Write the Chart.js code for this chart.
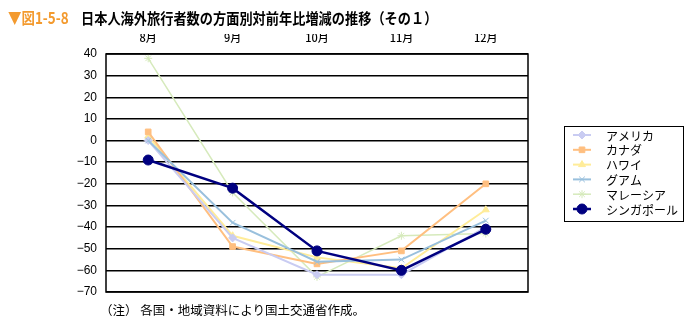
<!DOCTYPE html>
<html lang="ja">
<head>
<meta charset="utf-8">
<script src="https://cdn.jsdelivr.net/npm/chart.js@4"></script>
<style>
  html, body { margin: 0; padding: 0; background: #fff; }
  #wrap { position: relative; width: 694px; height: 327px; overflow: hidden; }
  #chart { position: absolute; left: 0; top: 0; }
  .title { position: absolute; left: 8px; top: 6px; white-space: nowrap;
           font-family: "Noto Sans CJK JP", sans-serif; font-size: 15px; line-height: 22px; }
  .title .fig { color: #f39a2e; font-weight: bold; font-size: 16px; display: inline-block; transform: scaleX(0.84); transform-origin: left; width: 62px; }
  .title .main { color: #000; font-weight: bold; display: inline-block; transform: scaleX(0.88); transform-origin: left; margin-left: 11px; }
  .note { position: absolute; left: 100px; top: 300px; white-space: nowrap;
          font-family: "Noto Sans CJK JP", sans-serif; font-size: 12.5px; color: #000; }
</style>
</head>
<body>
<div id="wrap">
  <canvas id="chart" width="694" height="327"></canvas>
  <div class="title"><span class="fig">▼図1-5-8</span><span class="main">日本人海外旅行者数の方面別対前年比増減の推移（その１）</span></div>
  <div class="note">（注） 各国・地域資料により国土交通省作成。</div>
</div>
<script>
// 月ごとの対前年比（％）
const months = ['8月', '9月', '10月', '11月', '12月'];
const america   = [0, -45, -62, -62, -40];
const canada    = [4, -49, -57, -51, -20];
const hawaii    = [2, -44, -54, -59, -32];
const guam      = [0, -38, -56, -55, -37];
const malaysia  = [38, -24, -63, -44, -43];
const singapore = [-9, -22, -51, -60, -41];

const yTicks = [40, 30, 20, 10, 0, -10, -20, -30, -40, -50, -60, -70];

const series = [
  { label: 'アメリカ',     data: america,   color: '#c9ccf2', style: 'rectRot',  radius: 4, width: 2,   order: 2 },
  { label: 'カナダ',       data: canada,    color: '#ffbf80', style: 'rect',     radius: 4, width: 2,   order: 3 },
  { label: 'ハワイ',       data: hawaii,    color: '#ffec99', style: 'triangle', radius: 4, width: 2,   order: 4 },
  { label: 'グアム',       data: guam,      color: '#99c0dd', style: 'crossRot', radius: 4, width: 2,   order: 1 },
  { label: 'マレーシア',   data: malaysia,  color: '#d6eabc', style: 'star',     radius: 4, width: 1.5, order: 5 },
  { label: 'シンガポール', data: singapore, color: '#000080', style: 'circle',   radius: 5, width: 2.5, order: 0 }
];

// プロット枠と、線＋マーカーの枠付き凡例を描く
const frameAndLegend = {
  id: 'frameAndLegend',
  afterDatasetsDraw(chart) {
    const { ctx } = chart;
    ctx.save();
    const box = { x: 564, y: 126, w: 119, h: 95 };
    ctx.strokeStyle = '#000';
    ctx.lineWidth = 1;
    ctx.strokeRect(box.x + 0.5, box.y + 0.5, box.w, box.h);
    ctx.font = '12px "Noto Sans CJK JP", sans-serif';
    ctx.textBaseline = 'middle';
    chart.data.datasets.forEach((ds, i) => {
      const y = 135 + i * 14.8;
      ctx.strokeStyle = ds.borderColor;
      ctx.fillStyle = ds.borderColor;
      ctx.lineWidth = ds.borderWidth;
      ctx.beginPath();
      ctx.moveTo(573, y);
      ctx.lineTo(591, y);
      ctx.stroke();
      ctx.lineWidth = 1;
      Chart.helpers.drawPoint(ctx, { pointStyle: ds.pointStyle, radius: ds.pointRadius, rotation: 0, borderWidth: 1 }, 582, y);
      ctx.fillStyle = '#000';
      ctx.fillText(ds.label, 606, y + 1);
    });

    const a = chart.chartArea;
    ctx.strokeStyle = '#000';
    ctx.lineWidth = 1.5;
    ctx.strokeRect(a.left, a.top, a.right - a.left, a.bottom - a.top);
    ctx.restore();
  }
};

new Chart(document.getElementById('chart'), {
  type: 'line',
  data: {
    labels: months,
    datasets: series.map(s => ({
      label: s.label,
      data: s.data,
      borderColor: s.color,
      backgroundColor: s.color,
      pointBackgroundColor: s.color,
      pointBorderColor: s.color,
      pointStyle: s.style,
      pointRadius: s.radius,
      pointBorderWidth: 1,
      borderWidth: s.width,
      tension: 0,
      order: s.order
    }))
  },
  options: {
    responsive: false,
    animation: false,
    layout: { padding: { left: 0, right: 166, top: 34, bottom: 35 } },
    scales: {
      x: {
        position: 'top',
        offset: true,
        grid: { display: false },
        border: { display: false },
        ticks: {
          color: '#000',
          padding: 2,
          font: { family: '"Noto Sans CJK JP", sans-serif', size: 11, weight: '500' }
        },
        afterFit: scale => { scale.height = 20; }
      },
      y: {
        min: -70,
        max: 40,
        grid: { color: '#000', lineWidth: 1.5, drawTicks: false },
        border: { display: false },
        afterBuildTicks: scale => { scale.ticks = yTicks.map(v => ({ value: v })); },
        ticks: {
          color: '#000',
          padding: 9,
          font: { family: 'Arial, "Liberation Sans", sans-serif', size: 12 },
          callback: v => (v < 0 ? '−' + Math.abs(v) : String(v))
        },
        afterFit: scale => { scale.width = 106; }
      }
    },
    plugins: {
      legend: { display: false },
      tooltip: { enabled: false }
    }
  },
  plugins: [frameAndLegend]
});
</script>
</body>
</html>
